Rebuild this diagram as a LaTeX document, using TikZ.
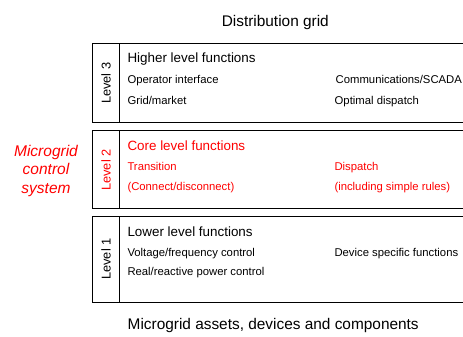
\documentclass[tikz,border=0pt]{standalone}
\usepackage{fontspec}
\setmainfont{Liberation Sans}
\begin{document}
\begin{tikzpicture}[x=1pt,y=-1pt,
  title/.style={anchor=base,inner sep=0pt,font=\fontsize{15.4}{18}\selectfont},
  head/.style={anchor=base west,inner sep=0pt,font=\fontsize{13.4}{16}\selectfont},
  item/.style={anchor=base west,inner sep=0pt,font=\fontsize{11.3}{13}\selectfont},
  lvl/.style={rotate=90,inner sep=0pt,font=\fontsize{12.8}{15}\selectfont},
  side/.style={align=center,inner sep=0pt,text=red,font=\fontsize{15.5}{18.5}\selectfont\itshape},
  frame/.style={draw=black,line width=1pt},
  divider/.style={draw=black,line width=1.3pt}]
\useasboundingbox (0,0) rectangle (463,337);
\clip (0,0) rectangle (463,337);
% level boxes
\draw[frame] (470,43.3) -- (92,43.3) -- (92,122.3) -- (470,122.3);
\draw[divider] (119.3,43.3) -- (119.3,122.3);
\draw[frame] (470,130.7) -- (92,130.7) -- (92,208) -- (470,208);
\draw[divider] (119.3,130.7) -- (119.3,208);
\draw[frame] (470,216.7) -- (92,216.7) -- (92,302) -- (470,302);
\draw[divider] (119.3,216.7) -- (119.3,302);
% titles
\node[title] (dg) at (275.3,26.7) {Distribution grid};
\node[title] (ma) at (273.2,329) {Microgrid assets, devices and components};
% side label
\node[side] (mcs) at (46,170.5) {Microgrid\\control\\system};
% level labels
\node[lvl] (l3) at (106,83.3) {Level 3};
\node[lvl,text=red] (l2) at (106,170) {Level 2};
\node[lvl] (l1) at (106,259) {Level 1};
% level 3
\node[head] (h3) at (127.3,62.7) {Higher level functions};
\node[item] (a3) at (127.3,83.7) {Operator interface};
\node[item] (b3) at (127.3,104) {Grid/market};
\node[item] (c3) at (335.5,83.7) {Communications/SCADA};
\node[item] (d3) at (334.5,104) {Optimal dispatch};
% level 2
\begin{scope}[text=red]
\node[head,text=red] (h2) at (127.3,150) {Core level functions};
\node[item,text=red] (a2) at (127.3,170.3) {Transition};
\node[item,text=red] (b2) at (127.3,190) {(Connect/disconnect)};
\node[item,text=red] (c2) at (334.3,170.3) {Dispatch};
\node[item,text=red] (d2) at (334.3,190) {(including simple rules)};
\end{scope}
% level 1
\node[head] (h1) at (127.3,236) {Lower level functions};
\node[item] (a1) at (127.3,256) {Voltage/frequency control};
\node[item] (b1) at (127.3,275.3) {Real/reactive power control};
\node[item] (c1) at (334.3,256) {Device specific functions};
\end{tikzpicture}
\end{document}
